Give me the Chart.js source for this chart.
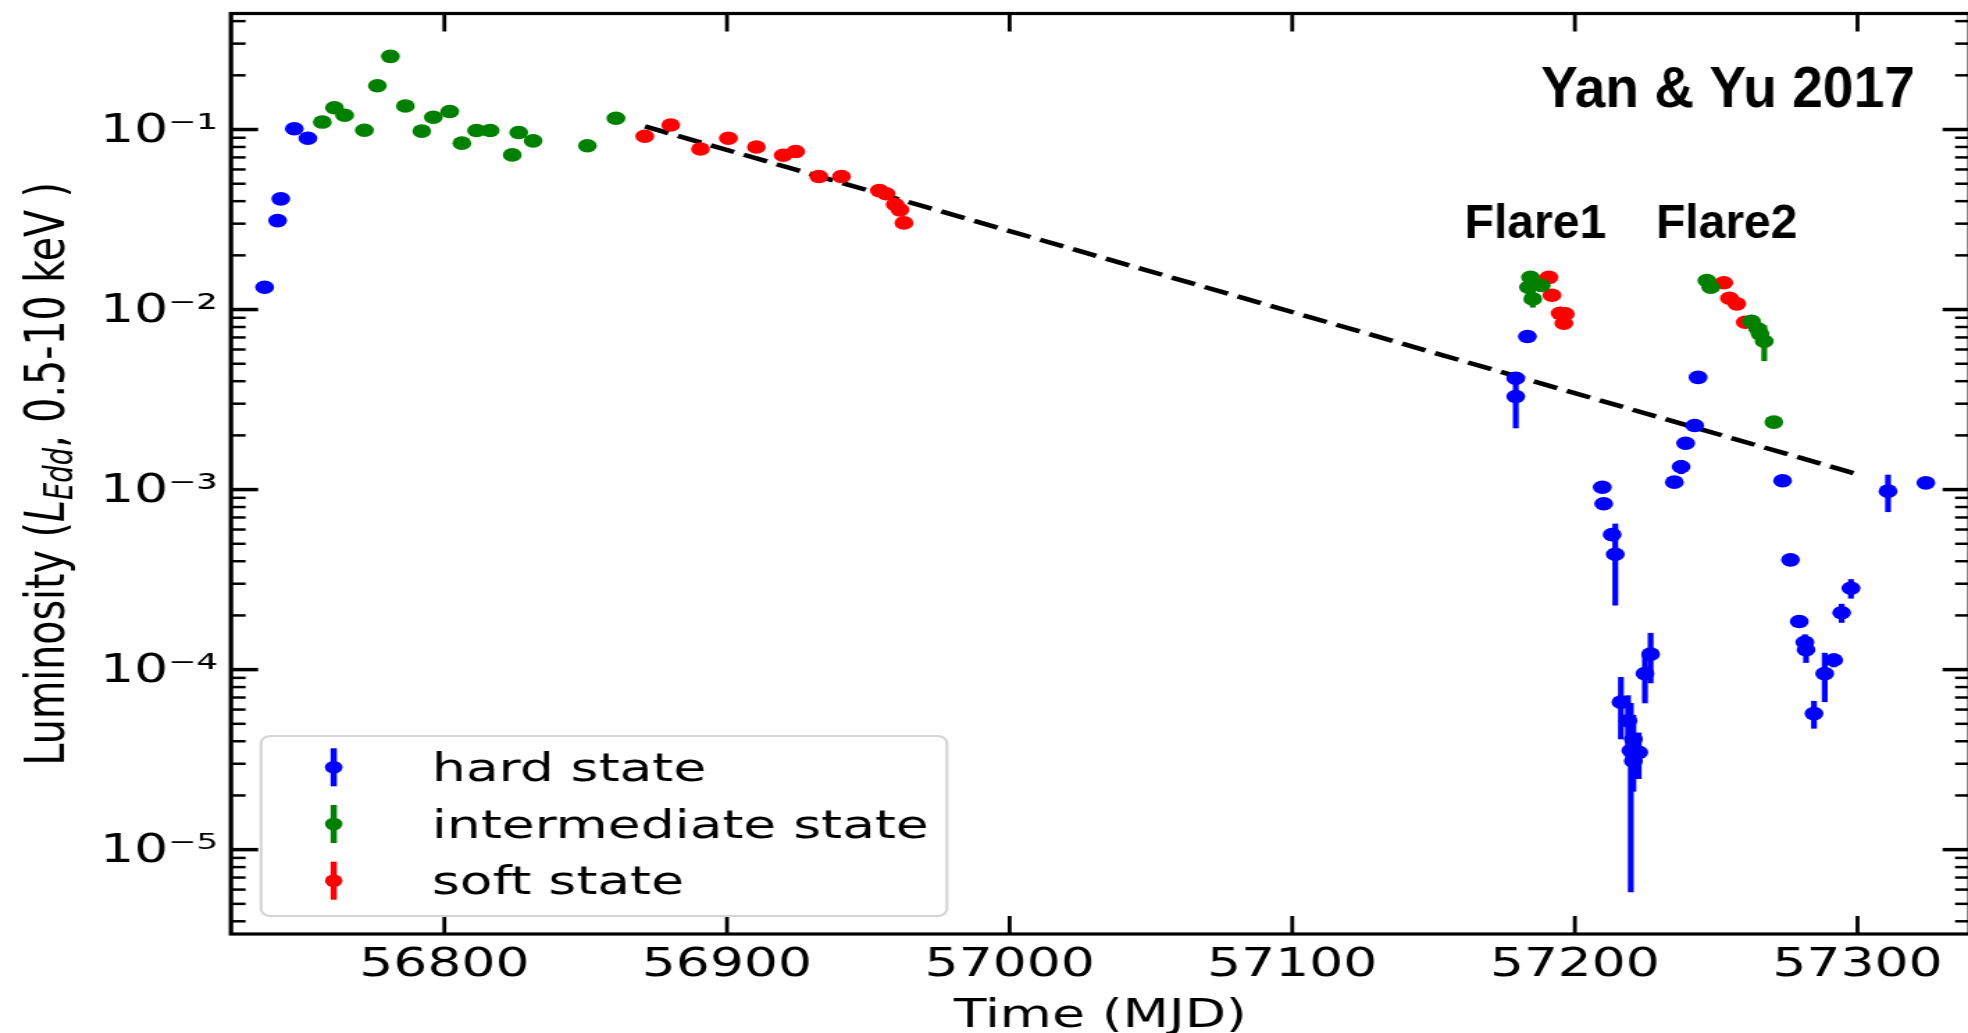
<!DOCTYPE html>
<html>
<head>
<meta charset="utf-8">
<title>Luminosity light curve</title>
<script src="https://cdn.jsdelivr.net/npm/chart.js@4.4.1/dist/chart.umd.min.js"></script>
<style>
  html, body { margin: 0; padding: 0; background: #fff; overflow: hidden; }
  /* the reference figure is stretched sideways, so the whole chart is stretched the same way */
  #wrap { position: absolute; left: 0; top: 0; width: 1424px; height: 1033px;
          transform: scaleX(1.38983); transform-origin: 0 0; }
</style>
</head>
<body>
<div id="wrap"><canvas id="lcChart"></canvas></div>
<script>
// hard state (blue)
const hardMJD = [56736.4, 56741.0, 56742.1, 56746.9, 56751.7, 57179.1, 57179.1, 57183.2, 57209.7, 57210.2,
                 57213.2, 57214.3, 57216.3, 57218.8, 57219.8, 57220.7, 57220.7, 57222.6, 57224.8, 57226.8,
                 57235.2, 57237.6, 57239.2, 57242.4, 57243.6, 57273.5, 57276.3, 57279.4, 57281.4, 57281.8,
                 57284.6, 57288.4, 57291.6, 57294.4, 57297.7, 57310.8, 57324.2];
const hardLum = [0.0133, 0.0312, 0.0412, 0.101, 0.0895, 0.00415, 0.00329, 0.00708, 0.00103, 0.000834,
                 0.000562, 0.000437, 6.6e-5, 5.2e-5, 3.55e-5, 4.1e-5, 3.1e-5, 3.47e-5, 9.5e-5, 1.22e-4,
                 0.0011, 0.00134, 0.00181, 0.00227, 0.0042, 0.00112, 4.07e-4, 1.85e-4, 1.42e-4, 1.29e-4,
                 5.7e-5, 9.5e-5, 1.13e-4, 2.07e-4, 2.83e-4, 9.8e-4, 0.00109];
const hardErr = [0, 0, 0, 0, 0, 0.0003, 0.0011, 0, 0, 0,
                 4e-5, 2.1e-4, 2.5e-5, 2e-5, 2.97e-5, 1.5e-5, 1e-5, 1e-5, 3e-5, 3.8e-5,
                 0, 1.2e-4, 0, 0, 0, 0, 0, 0, 1.5e-5, 2e-5,
                 1e-5, 2.9e-5, 1e-5, 2.5e-5, 3.5e-5, 2.3e-4, 0];

// intermediate state (green)
const interMJD = [56756.8, 56761.1, 56764.7, 56771.7, 56776.3, 56780.9, 56786.2, 56792.0, 56796.1, 56801.9,
                  56806.2, 56811.4, 56816.2, 56824.0, 56826.3, 56831.4, 56850.6, 56860.7, 57183.6, 57184.3,
                  57185.1, 57188.1, 57246.7, 57248.1, 57262.5, 57264.7, 57265.5, 57267.0, 57270.4];
const interLum = [0.110, 0.132, 0.120, 0.099, 0.175, 0.255, 0.135, 0.098, 0.117, 0.126,
                  0.084, 0.0987, 0.0987, 0.0723, 0.0962, 0.0865, 0.0812, 0.1155, 0.0133, 0.0151,
                  0.01146, 0.0136, 0.0145, 0.0133, 0.0086, 0.00782, 0.00733, 0.00667, 0.00237];
const interErr = [0, 0, 0, 0, 0, 0, 0, 0, 0, 0,
                  0, 0, 0, 0, 0, 0, 0, 0, 0.0015, 0.0012,
                  0.0012, 0.001, 0, 0, 0, 0.0006, 0.0006, 0.0015, 0];

// soft state (red)
const softMJD = [56870.9, 56880.1, 56890.6, 56900.5, 56910.4, 56919.9, 56924.3, 56932.5, 56940.5, 56953.9,
                 56956.3, 56959.5, 56961.2, 56962.6, 57190.8, 57191.9, 57194.8, 57196.6, 57196.1, 57252.7,
                 57254.7, 57257.3, 57260.3];
const softLum = [0.0918, 0.106, 0.078, 0.0895, 0.080, 0.072, 0.0755, 0.0548, 0.0548, 0.0458,
                 0.044, 0.0383, 0.0358, 0.0303, 0.0151, 0.0120, 0.00953, 0.00946, 0.0084, 0.0141,
                 0.01156, 0.01076, 0.0085];
const softErr = [0, 0, 0, 0, 0, 0, 0, 0, 0, 0,
                 0, 0, 0, 0, 0, 0, 0, 0, 0, 0,
                 0, 0, 0];

// exponential decay fit (dashed)
const fitMJD = [56871, 57299];
const fitLum = [0.104, 0.00123];

const xTicks = [56800, 56900, 57000, 57100, 57200, 57300];
const xTickLabels = ['56800', '56900', '57000', '57100', '57200', '57300'];
const yTicks = [1e-5, 1e-4, 1e-3, 1e-2, 1e-1];
const yTickLabels = ['10⁻⁵', '10⁻⁴', '10⁻³', '10⁻²', '10⁻¹'];
const stateLabels = ['hard state', 'intermediate state', 'soft state'];

function toPoints(xs, ys) {
    return xs.map((x, i) => ({ x: x, y: ys[i] }));
}

function strokeLine(ctx, x1, y1, x2, y2) {
    ctx.beginPath();
    ctx.moveTo(x1, y1);
    ctx.lineTo(x2, y2);
    ctx.stroke();
}

// vertical error bars, drawn under the markers
const errorBars = {
    id: 'errorBars',
    beforeDatasetsDraw(chart) {
        const { ctx, scales: { x, y } } = chart;
        ctx.save();
        ctx.lineWidth = 4.2;
        chart.data.datasets.forEach(ds => {
            if (!ds.errors) return;
            ctx.strokeStyle = ds.backgroundColor;
            ds.data.forEach((p, i) => {
                const e = ds.errors[i];
                if (!e) return;
                const px = x.getPixelForValue(p.x);
                const lo = Math.max(p.y - e, y.min);
                strokeLine(ctx, px, y.getPixelForValue(lo), px, y.getPixelForValue(p.y + e));
            });
        });
        ctx.restore();
    }
};

// matplotlib style box with inward ticks on all four sides
const frame = {
    id: 'frame',
    afterDraw(chart) {
        const { ctx, chartArea: a, scales: { x, y } } = chart;
        ctx.save();
        ctx.strokeStyle = '#000';
        ctx.lineWidth = 2.8;
        xTicks.forEach(v => {
            const px = x.getPixelForValue(v);
            strokeLine(ctx, px, a.bottom, px, a.bottom - 18);
            strokeLine(ctx, px, a.top, px, a.top + 18);
        });
        for (let e = -6; e <= 0; e++) {
            for (let m = 1; m <= 9; m++) {
                const v = m * Math.pow(10, e);
                if (v < y.min || v > y.max) continue;
                const py = y.getPixelForValue(v);
                const len = m === 1 ? 19.5 : 10.5;
                ctx.lineWidth = m === 1 ? 3.5 : 2.5;
                strokeLine(ctx, a.left, py, a.left + len, py);
                strokeLine(ctx, a.right, py, a.right - len, py);
            }
        }
        ctx.lineWidth = 3.2;
        ctx.strokeRect(a.left, a.top, a.right - a.left, a.bottom - a.top);
        ctx.restore();
    }
};

// legend box in the lower left corner, with errorbar symbols
const legendBox = {
    id: 'legendBox',
    afterDraw(chart) {
        const { ctx, chartArea: a } = chart;
        const left = a.left + 21.6, w = 493.5, h = 180;
        const top = a.bottom - 18 - h, r = 7;
        ctx.save();
        ctx.beginPath();
        ctx.moveTo(left + r, top);
        ctx.arcTo(left + w, top, left + w, top + h, r);
        ctx.arcTo(left + w, top + h, left, top + h, r);
        ctx.arcTo(left, top + h, left, top, r);
        ctx.arcTo(left, top, left + w, top, r);
        ctx.closePath();
        ctx.fillStyle = 'rgba(255,255,255,0.8)';
        ctx.fill();
        ctx.strokeStyle = '#d4d4d4';
        ctx.lineWidth = 2;
        ctx.stroke();
        const states = chart.data.datasets.filter(d => d.errors);
        states.forEach((d, i) => {
            const cx = left + 52.3;
            const cy = top + 31.3 + i * 56.7;
            ctx.strokeStyle = d.backgroundColor;
            ctx.lineWidth = 4.5;
            strokeLine(ctx, cx, cy - 19, cx, cy + 19);
            ctx.fillStyle = d.backgroundColor;
            ctx.beginPath();
            ctx.arc(cx, cy, 6.3, 0, 2 * Math.PI);
            ctx.fill();
            ctx.fillStyle = '#000';
            ctx.font = '38.5px "DejaVu Sans"';
            ctx.textBaseline = 'alphabetic';
            ctx.textAlign = 'left';
            ctx.fillText(d.label, left + 123, cy + 13.7);
        });
        ctx.restore();
    }
};

// y axis title with italic L and subscript Edd
const yTitle = {
    id: 'yTitle',
    afterDraw(chart) {
        const { ctx, chartArea: a } = chart;
        const parts = [
            ['Luminosity (', '39.5px "DejaVu Sans"', 0],
            ['L', 'italic 39.5px "DejaVu Sans"', 0],
            ['Edd', 'italic 27.5px "DejaVu Sans"', 6],
            [', 0.5-10 keV )', '39.5px "DejaVu Sans"', 0]
        ];
        ctx.save();
        let total = 0;
        parts.forEach(p => { ctx.font = p[1]; total += ctx.measureText(p[0]).width; });
        ctx.translate(45.5, (a.top + a.bottom) / 2);
        ctx.rotate(-Math.PI / 2);
        ctx.fillStyle = '#000';
        ctx.textBaseline = 'alphabetic';
        ctx.textAlign = 'left';
        let cx = -total / 2;
        parts.forEach(p => {
            ctx.font = p[1];
            ctx.fillText(p[0], cx, p[2]);
            cx += ctx.measureText(p[0]).width;
        });
        ctx.restore();
    }
};

// bold notes put on top of the figure (not stretched like the rest)
const notes = {
    id: 'notes',
    afterDraw(chart) {
        const { ctx, chartArea: a, scales: { x, y } } = chart;
        const squeeze = 0.98 / 1.38983;
        const flares = [['Flare1', 57161, 0.0249], ['Flare2', 57228.7, 0.0249]];
        ctx.save();
        ctx.fillStyle = '#000';
        ctx.textBaseline = 'alphabetic';
        ctx.font = 'bold 49px "Liberation Sans", Arial, sans-serif';
        ctx.textAlign = 'left';
        flares.forEach(f => {
            ctx.save();
            ctx.translate(x.getPixelForValue(f[1]), y.getPixelForValue(f[2]));
            ctx.scale(squeeze, 1);
            ctx.fillText(f[0], 0, 0);
            ctx.restore();
        });
        ctx.font = 'bold 58px "Liberation Sans", Arial, sans-serif';
        ctx.textAlign = 'right';
        ctx.translate(a.right - 39.4, a.top + 93.2);
        ctx.scale(squeeze * 0.97, 1);
        ctx.fillText('Yan & Yu 2017', 0, 0);
        ctx.restore();
    }
};

Chart.defaults.font.family = '"DejaVu Sans", sans-serif';
Chart.defaults.color = '#000';

function stateSet(label, xs, ys, errs, color) {
    return {
        label: label,
        data: toPoints(xs, ys),
        errors: errs,
        backgroundColor: color,
        borderColor: color,
        pointRadius: 6.8,
        pointHoverRadius: 6.8,
        borderWidth: 0,
        order: 0
    };
}

const chart = new Chart(document.getElementById('lcChart'), {
    type: 'scatter',
    data: {
        datasets: [
            stateSet(stateLabels[0], hardMJD, hardLum, hardErr, '#0000ff'),
            stateSet(stateLabels[1], interMJD, interLum, interErr, '#008000'),
            stateSet(stateLabels[2], softMJD, softLum, softErr, '#ff0000'),
            {
                label: 'fit',
                data: toPoints(fitMJD, fitLum),
                showLine: true,
                borderColor: '#000',
                backgroundColor: '#000',
                borderWidth: 4.5,
                borderDash: [18, 7.5],
                pointRadius: 0,
                order: 10
            }
        ]
    },
    options: {
        responsive: true,
        maintainAspectRatio: false,
        animation: false,
        events: [],
        layout: { padding: { left: 0, right: 3.3, top: 13.5, bottom: 0 } },
        plugins: {
            legend: { display: false },
            tooltip: { enabled: false }
        },
        scales: {
            x: {
                type: 'linear',
                min: 56724.5,
                max: 57339.7,
                grid: { display: false, drawTicks: false },
                border: { display: false },
                afterBuildTicks: s => { s.ticks = xTicks.map(v => ({ value: v })); },
                ticks: {
                    autoSkip: false,
                    maxRotation: 0,
                    padding: 8.5,
                    color: '#000',
                    font: { size: 38.5, lineHeight: 1.2 },
                    callback: v => xTickLabels[xTicks.indexOf(v)]
                },
                title: {
                    display: true,
                    text: 'Time (MJD)',
                    color: '#000',
                    font: { size: 38.5, lineHeight: 0.85 },
                    padding: 0
                },
                afterFit: s => { s.height = 99; s.paddingLeft = 0; s.paddingRight = 0; }
            },
            y: {
                type: 'logarithmic',
                min: 3.4e-6,
                max: 0.441,
                grid: { display: false, drawTicks: false },
                border: { display: false },
                afterBuildTicks: s => { s.ticks = yTicks.map(v => ({ value: v })); },
                ticks: {
                    autoSkip: false,
                    padding: 9.5,
                    labelOffset: 2.5,
                    color: '#000',
                    font: { size: 38.5 },
                    callback: v => {
                        const i = yTicks.findIndex(t => Math.abs(t - v) / t < 1e-6);
                        return i < 0 ? '' : yTickLabels[i];
                    }
                },
                afterFit: s => { s.width = 166.2; s.paddingTop = 0; s.paddingBottom = 0; }
            }
        }
    },
    plugins: [errorBars, frame, legendBox, yTitle, notes]
});
</script>
</body>
</html>
